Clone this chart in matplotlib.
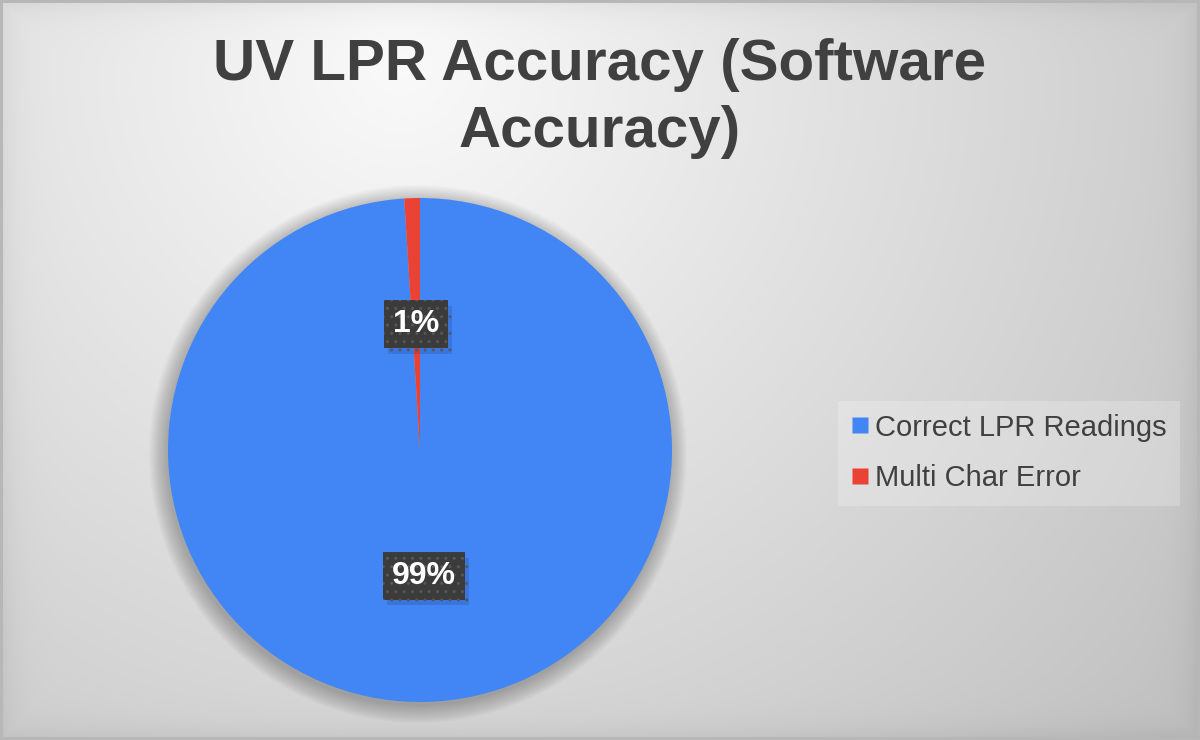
import numpy as np
import matplotlib
matplotlib.use("Agg")
import matplotlib.pyplot as plt
from matplotlib.lines import Line2D
from matplotlib.patches import Circle
import matplotlib.patheffects as pe

# ---- data ----
categories = ["Correct LPR Readings", "Multi Char Error"]
values = [99, 1]
colors = ["#4285F4", "#EA4335"]
title_lines = ["UV LPR Accuracy (Software", "Accuracy)"]

W, H, DPI = 1200, 740, 100
fig = plt.figure(figsize=(W / DPI, H / DPI), dpi=DPI)

# ---- background gradient ----
bg_ax = fig.add_axes([0, 0, 1, 1], zorder=-10)
yy, xx = np.mgrid[0:H, 0:W].astype(float)
d = np.hypot(xx - 400, yy - 60)
val = 250 - 0.056 * d
edge = np.minimum.reduce([xx, W - 1 - xx, yy, H - 1 - yy])
val -= 14 * np.exp(-edge / 14.0)
val = np.clip(val, 0, 255) / 255.0
img = np.dstack([val, val, val])
img[:3, :, :] = 0.72
img[-3:, :, :] = 0.72
img[:, :3, :] = 0.72
img[:, -3:, :] = 0.72
bg_ax.imshow(img, extent=[0, 1, 0, 1], aspect="auto", interpolation="bilinear")
bg_ax.set_axis_off()

# ---- pie ----
cx, cy, r = 420, 450, 252
ax = fig.add_axes([(cx - r) / W, (H - cy - r) / H, 2 * r / W, 2 * r / H])
ax.set_axis_off()

for i in range(16):
    ax.add_patch(Circle((-0.008, -0.016), 1.0 + i * 0.0045, facecolor="black",
                        edgecolor="none", alpha=0.015, zorder=0, clip_on=False))

plt.rcParams["hatch.linewidth"] = 1.0
wedges, texts, autotexts = ax.pie(
    values, colors=colors, startangle=90, counterclock=False,
    autopct=lambda p: f"{p:.0f}%", pctdistance=0.5, radius=1.0,
    wedgeprops=dict(linewidth=0, zorder=2),
    textprops=dict(color="white", fontsize=23, fontweight="bold",
                   family="Liberation Sans"))
ax.set_xlim(-1, 1)
ax.set_ylim(-1, 1)
ax.set_aspect("equal")
for t in autotexts:
    t.set_zorder(5)
    t.set_bbox(dict(boxstyle="square,pad=0.28", facecolor="#3b3b3b",
                    edgecolor="#575757", linewidth=0, hatch=".."))
    t.get_bbox_patch().set_path_effects(
        [pe.SimplePatchShadow(offset=(3, -4), alpha=0.22, shadow_rgbFace="#1f3f8a"),
         pe.Normal()])

# ---- title ----
tkw = dict(ha="center", va="baseline", fontsize=42, fontweight="bold",
           color="#404040", family="Liberation Sans")
fig.text(0.5, 1 - 80 / H, title_lines[0], **tkw)
fig.text(0.5, 1 - 147 / H, title_lines[1], **tkw)

# ---- legend ----
handles = [Line2D([], [], marker="s", linestyle="none", markersize=12,
                  markerfacecolor=c, markeredgecolor="none") for c in colors]
leg = fig.legend(handles, categories, loc="center",
                 bbox_to_anchor=(1009 / W, 1 - 453 / H),
                 prop=dict(family="Liberation Sans", size=21),
                 labelcolor="#404040", handlelength=0.6, handletextpad=0.2,
                 labelspacing=0.78, borderpad=0.45, borderaxespad=0,
                 frameon=True, fancybox=False)
fr = leg.get_frame()
fr.set_facecolor("#ffffff")
fr.set_alpha(0.22)
fr.set_edgecolor("none")

fig.savefig("out.png", dpi=DPI)
